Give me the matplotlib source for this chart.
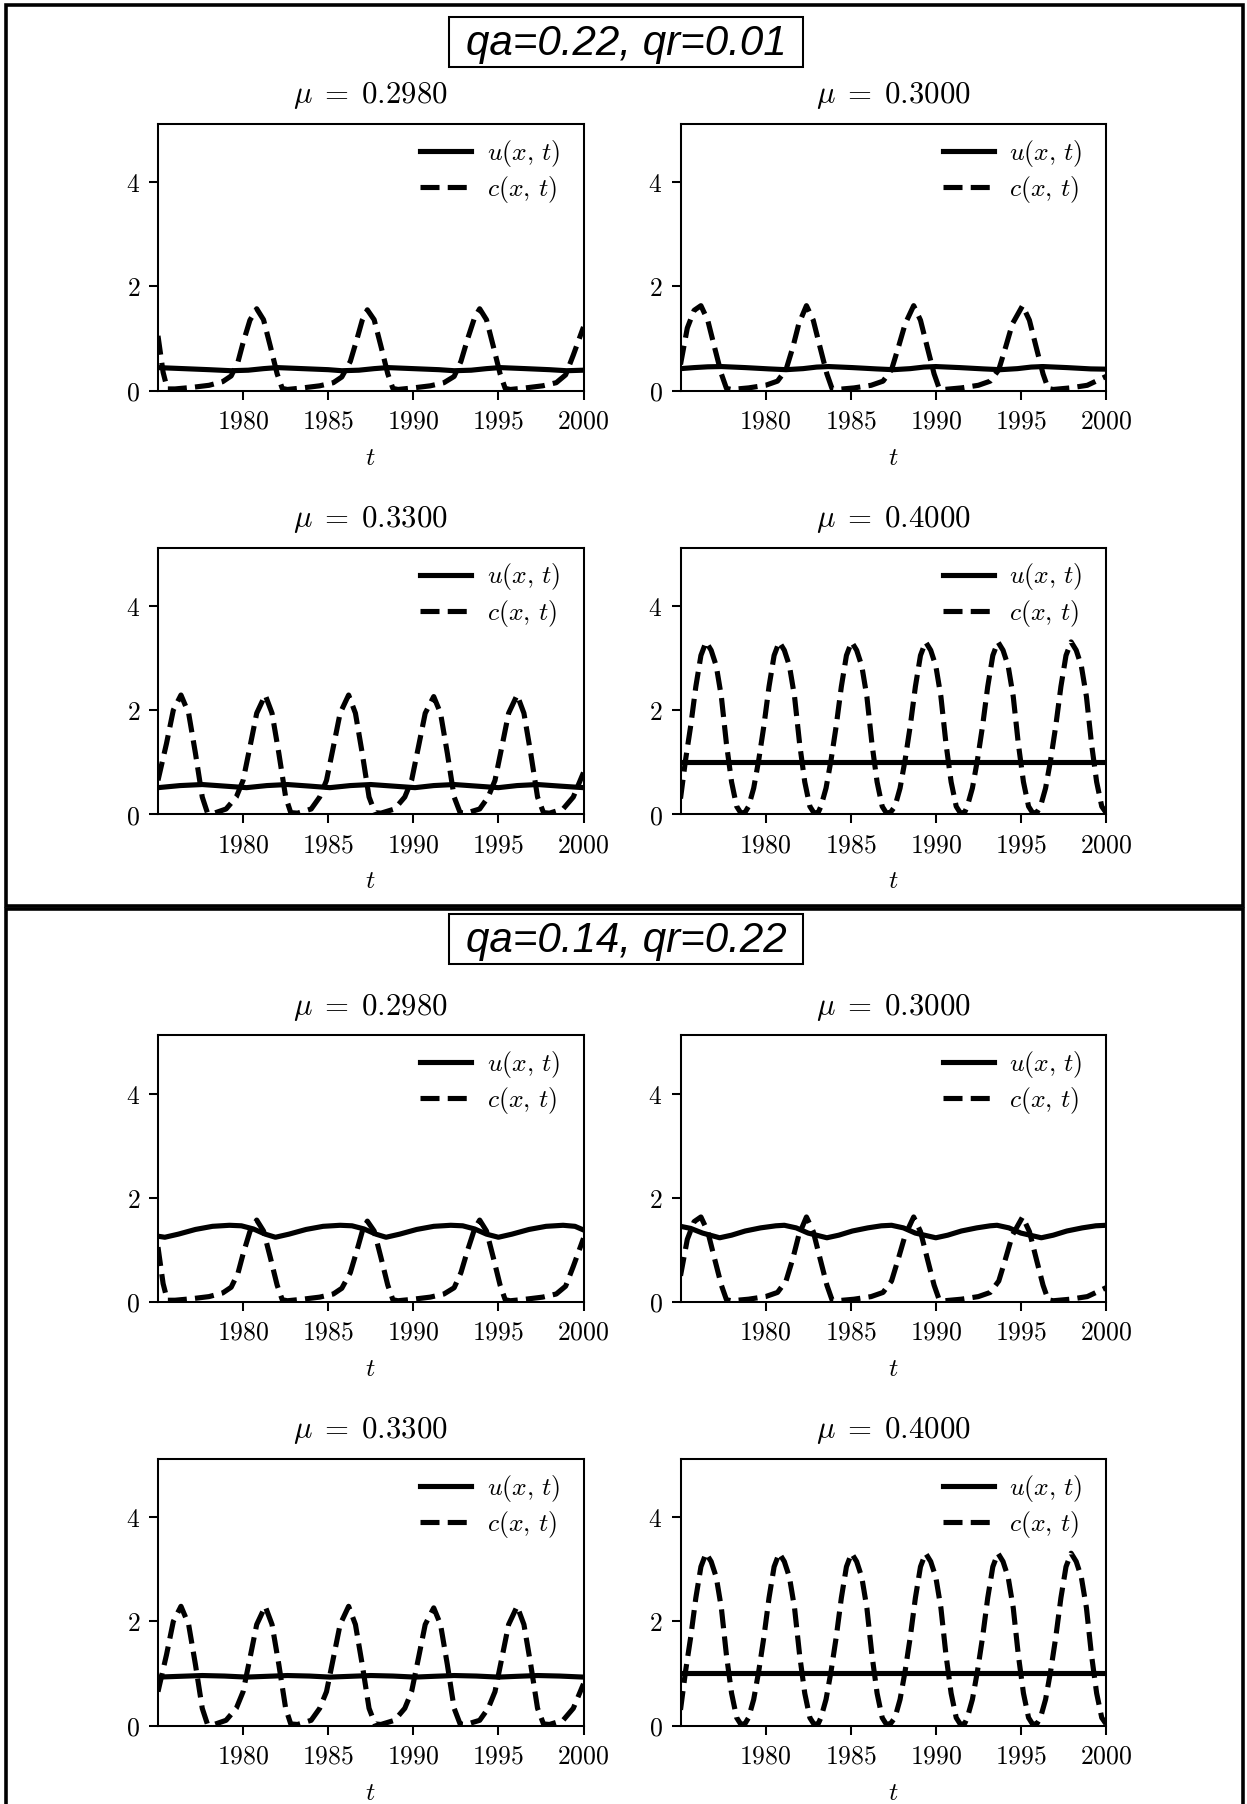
import numpy as np
import matplotlib
matplotlib.use('Agg')
import matplotlib.pyplot as plt
from matplotlib.ticker import FuncFormatter
from matplotlib.patches import Rectangle

plt.rcParams['mathtext.fontset'] = 'cm'

# two parameter sets, each one a boxed panel with 2x2 plots
panel_titles = ['qa=0.22, qr=0.01', 'qa=0.14, qr=0.22']
mu_values = [0.2980, 0.3000, 0.3300, 0.4000]
year_ticks = [1980, 1985, 1990, 1995, 2000]
y_ticks = [0, 2, 4]

# c(x,t) (same curves in both panels)
c_t_0298 = [1975.0, 1975.3, 1975.55, 1976.0, 1977.0, 1978.0, 1978.8, 1979.3, 1979.7, 1980.0, 1980.4, 1980.8,
            1981.2, 1981.6, 1982.0, 1982.3, 1982.6, 1983.5, 1984.5, 1985.3, 1985.8, 1986.3, 1986.7, 1987.0,
            1987.3, 1987.7, 1988.1, 1988.5, 1988.8, 1989.1, 1990.0, 1991.0, 1991.8, 1992.4, 1992.8, 1993.2,
            1993.6, 1993.9, 1994.3, 1994.7, 1995.1, 1995.4, 1995.7, 1996.6, 1997.6, 1998.4, 1998.95, 1999.4, 2000.0]
c_v_0298 = [1.05, 0.35, 0.03, 0.03, 0.06, 0.10, 0.17, 0.28, 0.55, 0.92, 1.35, 1.57,
            1.36, 0.85, 0.32, 0.04, 0.02, 0.05, 0.09, 0.15, 0.26, 0.56, 1.00, 1.35,
            1.55, 1.36, 0.85, 0.32, 0.04, 0.02, 0.05, 0.09, 0.15, 0.27, 0.56, 1.00,
            1.40, 1.57, 1.36, 0.85, 0.32, 0.04, 0.02, 0.05, 0.09, 0.15, 0.30, 0.68, 1.22]

c_t_0300 = [1975.0, 1975.4, 1975.8, 1976.2, 1976.6, 1977.0, 1977.4, 1977.7, 1978.0, 1979.0, 1980.0, 1980.7,
            1981.2, 1981.6, 1981.95, 1982.4, 1982.8, 1983.2, 1983.6, 1983.9, 1984.2, 1985.2, 1986.2, 1986.9,
            1987.4, 1987.8, 1988.2, 1988.7, 1989.1, 1989.5, 1989.9, 1990.2, 1990.5, 1991.5, 1992.5, 1993.2,
            1993.7, 1994.1, 1994.5, 1995.1, 1995.5, 1995.9, 1996.3, 1996.6, 1996.9, 1997.9, 1998.9, 2000.0]
c_v_0300 = [0.50, 1.20, 1.54, 1.63, 1.35, 0.83, 0.32, 0.04, 0.02, 0.05, 0.10, 0.18,
            0.40, 0.83, 1.28, 1.63, 1.35, 0.83, 0.32, 0.04, 0.02, 0.05, 0.10, 0.18,
            0.40, 0.83, 1.28, 1.63, 1.35, 0.83, 0.32, 0.04, 0.02, 0.05, 0.10, 0.18,
            0.40, 0.83, 1.28, 1.63, 1.35, 0.83, 0.32, 0.04, 0.02, 0.05, 0.10, 0.27]

c_t_0330 = [1975.0, 1975.5, 1975.9, 1976.35, 1976.8, 1977.2, 1977.6, 1977.9, 1978.3, 1979.0, 1979.6, 1980.0,
            1980.4, 1980.8, 1981.3, 1981.7, 1982.1, 1982.5, 1982.8, 1983.2, 1984.0, 1984.5, 1984.9, 1985.3,
            1985.7, 1986.2, 1986.6, 1987.0, 1987.4, 1987.75, 1988.1, 1988.9, 1989.5, 1989.9, 1990.3, 1990.7,
            1991.2, 1991.6, 1992.0, 1992.4, 1992.75, 1993.1, 1993.9, 1994.4, 1994.8, 1995.2, 1995.6, 1996.1,
            1996.5, 1996.9, 1997.3, 1997.65, 1998.0, 1998.8, 1999.4, 2000.0]
c_v_0330 = [0.65, 1.36, 2.00, 2.29, 1.94, 1.17, 0.33, 0.03, 0.02, 0.10, 0.33, 0.65,
            1.29, 1.94, 2.29, 1.94, 1.17, 0.33, 0.03, 0.02, 0.10, 0.33, 0.65, 1.29,
            1.94, 2.29, 1.94, 1.17, 0.33, 0.03, 0.02, 0.10, 0.33, 0.65, 1.29, 1.94,
            2.26, 1.94, 1.17, 0.33, 0.03, 0.02, 0.10, 0.33, 0.65, 1.29, 1.94, 2.29,
            1.94, 1.17, 0.33, 0.03, 0.02, 0.10, 0.33, 0.80]

c_t_0400 = [1975.0, 1975.3, 1975.6, 1975.9, 1976.2, 1976.5, 1976.8, 1977.1, 1977.4, 1977.7, 1978.0, 1978.3, 1978.55, 1978.8,
            1979.0, 1979.3, 1979.6, 1979.9, 1980.2, 1980.5, 1980.8, 1981.1, 1981.4, 1981.7, 1982.0, 1982.3, 1982.6, 1982.85, 1983.1,
            1983.25, 1983.55, 1983.85, 1984.15, 1984.45, 1984.75, 1985.05, 1985.35, 1985.65, 1985.95, 1986.25, 1986.55, 1986.85, 1987.1, 1987.35,
            1987.6, 1987.9, 1988.2, 1988.5, 1988.8, 1989.1, 1989.4, 1989.7, 1990.0, 1990.3, 1990.6, 1990.9, 1991.2, 1991.45, 1991.7,
            1991.85, 1992.15, 1992.45, 1992.75, 1993.05, 1993.35, 1993.65, 1993.95, 1994.25, 1994.55, 1994.85, 1995.15, 1995.45, 1995.7, 1995.95,
            1996.15, 1996.45, 1996.75, 1997.05, 1997.35, 1997.65, 1997.95, 1998.25, 1998.55, 1998.85, 1999.15, 1999.45, 1999.75, 2000.0]
c_v_0400 = [0.30, 1.05, 1.70, 2.45, 3.05, 3.31, 3.15, 2.85, 2.26, 1.35, 0.62, 0.15, 0.02, 0.04,
            0.15, 0.50, 1.05, 1.70, 2.45, 3.05, 3.31, 3.15, 2.85, 2.26, 1.35, 0.62, 0.15, 0.02, 0.04,
            0.15, 0.50, 1.05, 1.70, 2.45, 3.05, 3.31, 3.15, 2.85, 2.26, 1.35, 0.62, 0.15, 0.02, 0.04,
            0.15, 0.50, 1.05, 1.70, 2.45, 3.05, 3.31, 3.15, 2.85, 2.26, 1.35, 0.62, 0.15, 0.02, 0.04,
            0.15, 0.50, 1.05, 1.70, 2.45, 3.05, 3.31, 3.15, 2.85, 2.26, 1.35, 0.62, 0.15, 0.02, 0.04,
            0.15, 0.50, 1.05, 1.70, 2.45, 3.05, 3.31, 3.15, 2.85, 2.26, 1.35, 0.62, 0.15, 0.03]

# u(x,t), panel qa=0.22, qr=0.01
u1_t_0298 = [1975.0, 1976.5, 1978.0, 1979.3, 1980.3, 1981.2, 1982.0, 1983.5, 1985.0, 1985.8, 1986.8, 1987.7,
             1988.5, 1990.0, 1991.5, 1992.4, 1993.4, 1994.3, 1995.1, 1996.6, 1998.0, 1999.0, 2000.0]
u1_v_0298 = [0.44, 0.42, 0.40, 0.38, 0.39, 0.42, 0.44, 0.42, 0.40, 0.38, 0.39, 0.42,
             0.44, 0.42, 0.40, 0.38, 0.39, 0.42, 0.44, 0.42, 0.40, 0.38, 0.39]
u1_t_0300 = [1975.0, 1975.8, 1976.6, 1977.4, 1978.8, 1980.2, 1981.2, 1982.2, 1983.0, 1983.7, 1985.1, 1986.5,
             1987.5, 1988.5, 1989.3, 1990.0, 1991.4, 1992.8, 1993.8, 1994.8, 1995.6, 1996.3, 1997.7, 1999.1, 2000.0]
u1_v_0300 = [0.42, 0.44, 0.455, 0.46, 0.44, 0.415, 0.40, 0.42, 0.45, 0.46, 0.44, 0.415,
             0.40, 0.42, 0.45, 0.46, 0.44, 0.415, 0.40, 0.42, 0.45, 0.46, 0.44, 0.415, 0.41]
u1_t_0330 = [1975.0, 1976.3, 1977.6, 1978.9, 1980.2, 1981.4, 1982.6, 1983.9, 1985.1, 1986.3, 1987.5,
             1988.8, 1990.1, 1991.2, 1992.4, 1993.7, 1995.0, 1996.1, 1997.3, 1998.6, 2000.0]
u1_v_0330 = [0.51, 0.55, 0.57, 0.54, 0.51, 0.55, 0.57, 0.54, 0.51, 0.55, 0.57,
             0.54, 0.51, 0.55, 0.57, 0.54, 0.51, 0.55, 0.57, 0.54, 0.51]
u1_t_0400 = [1975.0, 1987.5, 2000.0]
u1_v_0400 = [1.0, 1.0, 1.0]

# u(x,t), panel qa=0.14, qr=0.22
u2_t_0298 = [1975.0, 1975.4, 1976.2, 1977.2, 1978.2, 1979.2, 1979.9, 1980.6, 1981.3, 1981.9, 1982.7, 1983.7,
             1984.7, 1985.7, 1986.4, 1987.1, 1987.8, 1988.4, 1989.2, 1990.2, 1991.2, 1992.2, 1992.9, 1993.6,
             1994.3, 1995.0, 1995.8, 1996.8, 1997.8, 1998.8, 1999.5, 2000.0]
u2_v_0298 = [1.26, 1.24, 1.30, 1.39, 1.45, 1.47, 1.46, 1.40, 1.30, 1.24, 1.30, 1.39,
             1.45, 1.47, 1.46, 1.40, 1.30, 1.24, 1.30, 1.39, 1.45, 1.47, 1.46, 1.40,
             1.30, 1.24, 1.30, 1.39, 1.45, 1.47, 1.45, 1.38]
u2_t_0300 = [1975.0, 1975.6, 1976.3, 1977.3, 1978.0, 1978.8, 1979.7, 1980.6, 1981.1, 1981.8, 1982.5, 1983.6,
             1984.3, 1985.1, 1986.0, 1986.8, 1987.4, 1988.1, 1988.8, 1990.0, 1990.7, 1991.5, 1992.4, 1993.2,
             1993.6, 1994.3, 1995.0, 1996.2, 1996.9, 1997.7, 1998.6, 1999.4, 2000.0]
u2_v_0300 = [1.45, 1.41, 1.32, 1.23, 1.28, 1.36, 1.42, 1.46, 1.47, 1.42, 1.32, 1.23,
             1.28, 1.36, 1.42, 1.46, 1.47, 1.42, 1.32, 1.23, 1.28, 1.36, 1.42, 1.46,
             1.47, 1.42, 1.32, 1.23, 1.28, 1.36, 1.42, 1.46, 1.47]
u2_t_0330 = [1975.0, 1976.3, 1977.6, 1978.9, 1980.2, 1981.4, 1982.6, 1983.9, 1985.1, 1986.3, 1987.5,
             1988.8, 1990.1, 1991.2, 1992.4, 1993.7, 1995.0, 1996.1, 1997.3, 1998.6, 2000.0]
u2_v_0330 = [0.93, 0.945, 0.96, 0.95, 0.93, 0.945, 0.96, 0.95, 0.93, 0.945, 0.96,
             0.95, 0.93, 0.945, 0.96, 0.95, 0.93, 0.945, 0.96, 0.95, 0.93]
u2_t_0400 = [1975.0, 1987.5, 2000.0]
u2_v_0400 = [1.0, 1.0, 1.0]

c_curves = [(c_t_0298, c_v_0298), (c_t_0300, c_v_0300), (c_t_0330, c_v_0330), (c_t_0400, c_v_0400)]
u_curves = [
    [(u1_t_0298, u1_v_0298), (u1_t_0300, u1_v_0300), (u1_t_0330, u1_v_0330), (u1_t_0400, u1_v_0400)],
    [(u2_t_0298, u2_v_0298), (u2_t_0300, u2_v_0300), (u2_t_0330, u2_v_0330), (u2_t_0400, u2_v_0400)],
]

W, H = 1247, 1804
fig = plt.figure(figsize=(W / 185, H / 185), dpi=185)

def fx(px):  # pixel -> figure fraction
    return px / W

def fy(py):  # pixel from top -> figure fraction
    return 1 - py / H

col_left = [158, 680.5]
ax_w, ax_h = 425.5, 266.5
row_top = [124, 547.7]
axes_dy = 911.3     # vertical shift of the plots in the second panel
frame_top = [5, 909]
frame_bot = [906, H + 10]
title_dy = 897      # vertical shift of the boxed title in the second panel

tick_fmt = FuncFormatter(lambda v, p: '$%d$' % v)

for p in range(2):
    # frame around the panel
    fig.add_artist(Rectangle((fx(6), fy(frame_bot[p])), fx(1243) - fx(6), fy(frame_top[p]) - fy(frame_bot[p]),
                             transform=fig.transFigure, fill=False, lw=1.4, ec='black'))
    # boxed panel title
    toff = p * title_dy
    fig.add_artist(Rectangle((fx(449), fy(67 + toff)), fx(803) - fx(449), fy(17 + toff) - fy(67 + toff),
                             transform=fig.transFigure, fill=False, lw=0.8, ec='black'))
    fig.text(fx(626), fy(55 + toff), panel_titles[p], ha='center', va='baseline',
             fontsize=16.4, style='italic', family='Liberation Sans')

    off = p * axes_dy
    for k in range(4):
        r, c = divmod(k, 2)
        t0 = row_top[r] + off
        ax = fig.add_axes([fx(col_left[c]), fy(t0 + ax_h), fx(ax_w), ax_h / H])
        ut, uv = u_curves[p][k]
        ct, cv = c_curves[k]
        ax.plot(ut, uv, color='black', lw=2, ls='-', label=r'$u(x,\,t)$')
        ax.plot(ct, cv, color='black', lw=2, ls='--', label=r'$c(x,\,t)$')
        ax.set_xlim(1975, 2000)
        ax.set_ylim(0, 5.12)
        ax.set_xticks(year_ticks)
        ax.set_yticks(y_ticks)
        ax.xaxis.set_major_formatter(tick_fmt)
        ax.yaxis.set_major_formatter(tick_fmt)
        ax.set_xlabel(r'$t$')
        ax.set_title(r'$\mu\;=\;%.4f$' % mu_values[k], pad=8)
        ax.legend(loc='upper right', frameon=False, bbox_to_anchor=(1, 1.035),
                  labelspacing=0.2, handletextpad=0.6)

plt.savefig('out.png', dpi=185)
